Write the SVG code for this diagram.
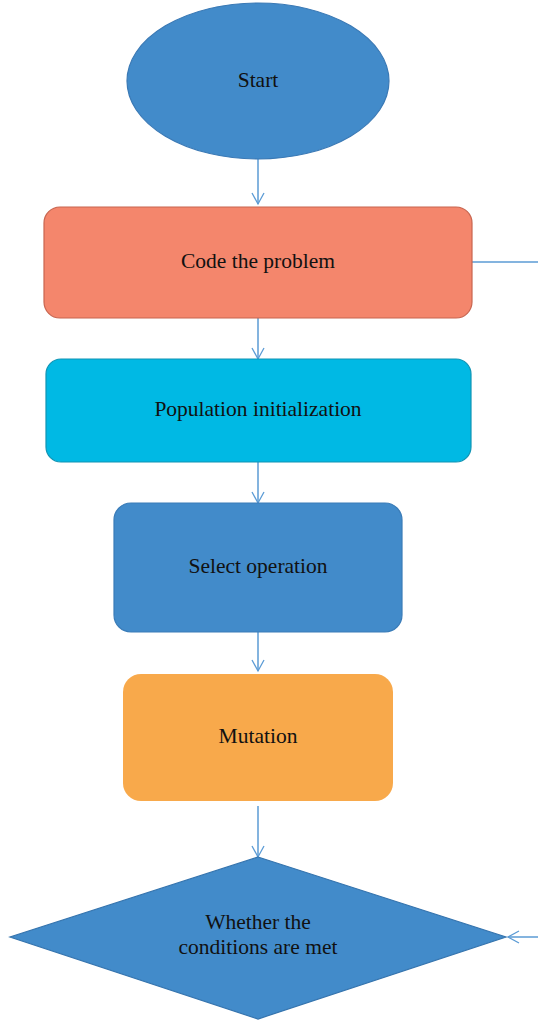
<svg xmlns="http://www.w3.org/2000/svg" width="538" height="1021" viewBox="0 0 538 1021">
<defs>
<marker id="arr" markerWidth="14" markerHeight="14" refX="12" refY="7" orient="auto" markerUnits="userSpaceOnUse">
<path d="M1,1 L12,7 L1,13" fill="none" stroke="#5B9BD5" stroke-width="1.3"/>
</marker>
</defs>
<style>
text{font-family:"Liberation Serif","Times New Roman",serif;font-size:21.5px;fill:#111;text-anchor:middle}
.c{fill:none;stroke:#5B9BD5;stroke-width:1.5}
</style>
<rect width="538" height="1021" fill="#fff"/>
<g id="connectors">
<line class="c" x1="258" y1="159" x2="258" y2="204" marker-end="url(#arr)"/>
<line class="c" x1="258" y1="318" x2="258" y2="359" marker-end="url(#arr)"/>
<line class="c" x1="258" y1="462" x2="258" y2="503" marker-end="url(#arr)"/>
<line class="c" x1="258" y1="632" x2="258" y2="671" marker-end="url(#arr)"/>
<line class="c" x1="258" y1="806" x2="258" y2="857" marker-end="url(#arr)"/>
<line class="c" x1="472" y1="262" x2="538" y2="262"/>
<line class="c" x1="538" y1="937" x2="508" y2="937" marker-end="url(#arr)"/>
</g>
<g id="start">
<ellipse cx="258" cy="81" rx="131" ry="78" fill="#428BCA" stroke="#3A79B5" stroke-width="1.2"/>
<text x="258" y="87">Start</text>
</g>
<g id="code">
<rect x="44" y="207" width="428" height="111" rx="16" fill="#F4866C" stroke="#C8654F" stroke-width="1.2"/>
<text x="258" y="268">Code the problem</text>
</g>
<g id="population">
<rect x="46" y="359" width="425" height="103" rx="15" fill="#00B9E4" stroke="#1094B4" stroke-width="1.2"/>
<text x="258" y="416">Population initialization</text>
</g>
<g id="select">
<rect x="114" y="503" width="288" height="129" rx="17" fill="#428BCA" stroke="#3A7CB8" stroke-width="1.2"/>
<text x="258" y="573">Select operation</text>
</g>
<g id="mutation">
<rect x="123" y="674" width="270" height="127" rx="18" fill="#F8A94B"/>
<text x="258" y="743">Mutation</text>
</g>
<g id="decision">
<polygon points="258,857 506,937 258,1019 10,937" fill="#428BCA" stroke="#3574AE" stroke-width="1.2"/>
<text x="258" y="929">Whether the</text>
<text x="258" y="954">conditions are met</text>
</g>
</svg>
